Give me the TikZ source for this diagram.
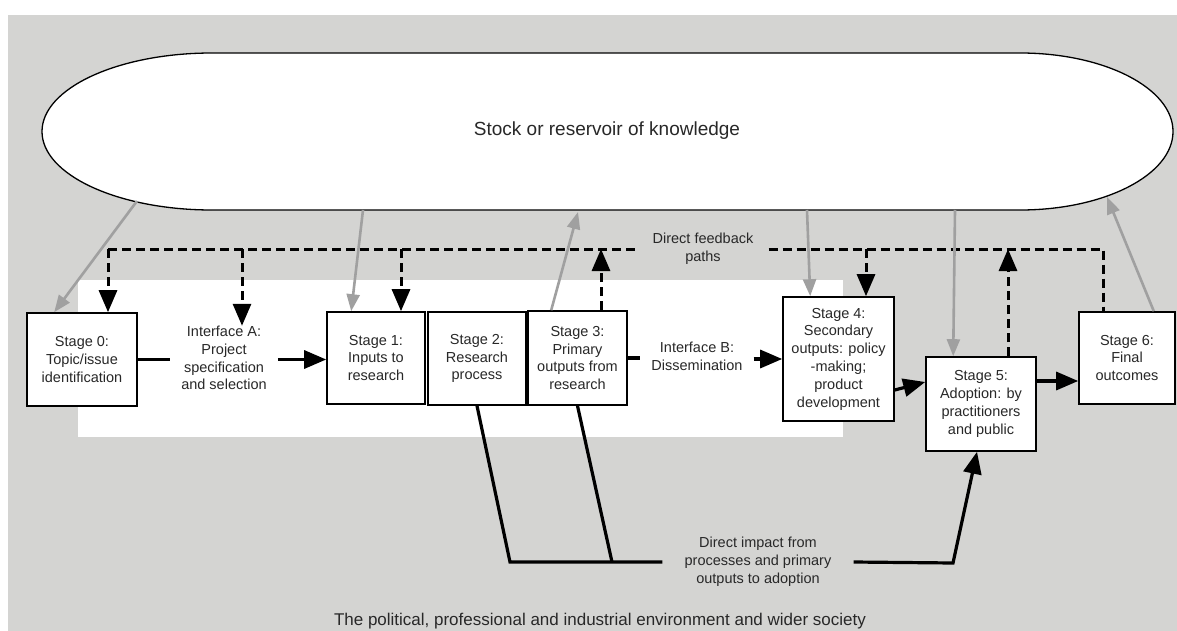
\documentclass[tikz,border=0pt]{standalone}
\usepackage{fontspec}
\setmainfont{Liberation Sans}
\usepackage{xcolor}
\usetikzlibrary{arrows.meta}

\definecolor{envgray}{RGB}{212,212,210}
\definecolor{kngray}{RGB}{160,160,160}
\definecolor{txtgray}{RGB}{40,40,40}

\begin{document}
\begin{tikzpicture}[x=1pt, y=-1pt, font=\fontsize{14.5}{17.8}\selectfont, text=txtgray,
	stagebox/.style={draw=black, line width=1.6pt, fill=white, align=center, inner sep=0pt},
	iface/.style={align=center, inner xsep=11pt, inner ysep=2pt},
	plain/.style={line width=3.2pt},
	flow/.style={plain, -{Triangle[length=22pt, width=18pt]}},
	fb/.style={line width=3pt, dash pattern=on 9pt off 5pt},
	fbtip/.style={fb, -{Triangle[length=22pt, width=18pt]}},
	kn/.style={draw=kngray, line width=2.6pt, -{Triangle[length=17pt, width=13pt]}}]

	% environment and research area
	\fill[envgray] (8,15) rectangle (1177,631);
	\fill[white] (78,280) rectangle (843,437);
	\useasboundingbox (0,0) rectangle (1177,631);

	% stock of knowledge
	\draw[line width=1.3pt, fill=white] (212,53) -- (1020,53)
		arc[start angle=90, end angle=-90, x radius=153pt, y radius=78.5pt] -- (212,210)
		arc[start angle=270, end angle=90, x radius=170pt, y radius=78.5pt] -- cycle;
	\node[font=\fontsize{19}{23}\selectfont] (stock) at (607,131) {Stock or reservoir of knowledge};
	\coordinate (k0) at (137,201);
	\coordinate (k1) at (363,210);
	\coordinate (k3) at (578,212);
	\coordinate (k4) at (807,210);
	\coordinate (k5) at (955,210);
	\coordinate (k6) at (1107,197);

	% stages
	\node[stagebox, minimum width=110pt, minimum height=93pt] (s0) at (82,359.5) {Stage 0:\\Topic/issue\\identification};
	\node[iface] (ifA) at (224,358) {Interface A:\\Project\\specification\\and selection};
	\node[stagebox, minimum width=98pt, minimum height=92pt] (s1) at (376,358) {Stage 1:\\Inputs to\\research};
	\node[stagebox, minimum width=98pt, minimum height=93pt] (s2) at (477,358.5) {Stage 2:\\Research\\process};
	\node[stagebox, minimum width=99pt, minimum height=94pt] (s3) at (577.5,358) {Stage 3:\\Primary\\outputs from\\research};
	\node[iface] (ifB) at (697,356) {Interface B:\\Dissemination};
	\node[stagebox, minimum width=111pt, minimum height=124pt] (s4) at (838.5,359) {Stage 4:\\Secondary\\outputs: policy\\-making;\\product\\development};
	\node[stagebox, minimum width=110pt, minimum height=94pt] (s5) at (981,404) {Stage 5:\\Adoption: by\\practitioners\\and public};
	\node[stagebox, minimum width=96pt, minimum height=92pt] (s6) at (1127,358) {Stage 6:\\Final\\outcomes};

	% main flow
	\draw[plain] (s0.east) -- (s0.east -| ifA.west);
	\draw[flow] (ifA.east |- s0.east) -- (s1.west |- s0.east);
	\draw[plain] (s3.east) -- (s3.east -| ifB.west);
	\draw[flow] (ifB.east |- s4.west) -- (s4.west);
	\draw[flow] ([yshift=-31pt]s4.east) -- ([yshift=22pt]s5.west);
	\draw[flow] ([yshift=23pt]s5.east) -- ([yshift=23pt]s5.east -| s6.west);

	% direct feedback paths
	\node[align=center, inner xsep=15pt, inner ysep=1pt] (fbl) at (703,249) {Direct feedback\\paths};
	\coordinate (bus0) at (108,249);
	\coordinate (busA) at (242,249);
	\coordinate (bus1) at (401,249);
	\coordinate (bus3) at (601,249);
	\coordinate (bus4) at (866,249);
	\coordinate (bus5) at (1008,249);
	\coordinate (bus6) at (1103,249);
	\draw[fb] (bus0) -- (fbl.west |- bus0);
	\draw[fb] (fbl.east |- bus6) -- (bus6) -- (bus6 |- s6.north);
	\draw[fbtip] (bus0) -- (bus0 |- s0.north);
	\draw[fbtip] (busA) -- ([yshift=-2pt]busA |- ifA.north);
	\draw[fbtip] (bus1) -- (bus1 |- s1.north);
	\draw[fbtip] (bus4) -- (bus4 |- s4.north);
	\draw[fbtip] (bus3 |- s3.north) -- (bus3);
	\draw[fbtip] (bus5 |- s5.north) -- (bus5);

	% exchange with the stock of knowledge
	\draw[kn] (k0) -- ([xshift=28pt]s0.north west);
	\draw[kn] (k1) -- ([xshift=25pt]s1.north west);
	\draw[kn] ([xshift=24pt]s3.north west) -- (k3);
	\draw[kn] (k4) -- ([xshift=28pt]s4.north west);
	\draw[kn] (k5) -- ([xshift=28pt]s5.north west);
	\draw[kn] ([xshift=-22pt]s6.north east) -- (k6);

	% direct impact
	\node[align=center, inner xsep=22pt] (imp) at (758,562) {Direct impact from\\processes and primary\\outputs to adoption};
	\coordinate (j2) at (510,562);
	\coordinate (j3) at (612,562);
	\coordinate (j5) at (953,563);
	\draw[plain] (s2.south) -- (j2) -- (imp.west);
	\draw[plain] (s3.south) -- (j3);
	\draw[flow] (imp.east) -- (j5) -- ([xshift=-4pt]s5.south);

	\node[font=\fontsize{17}{20}\selectfont] (env) at (600,621) {The political, professional and industrial environment and wider society};
\end{tikzpicture}
\end{document}
